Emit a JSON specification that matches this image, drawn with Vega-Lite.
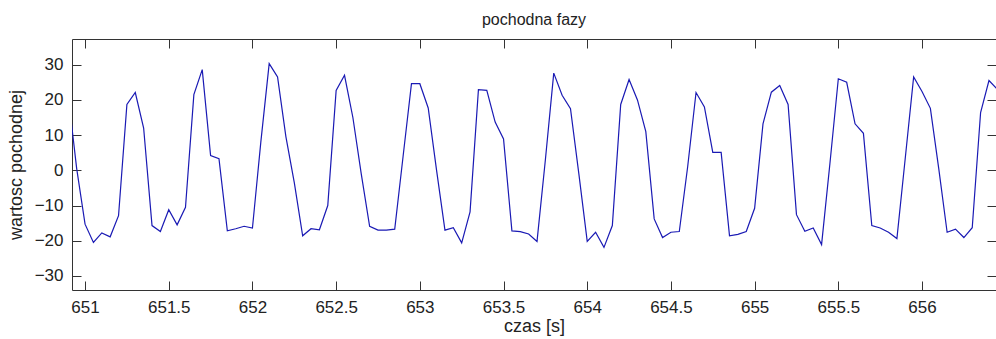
{
  "$schema": "https://vega.github.io/schema/vega-lite/v6.json",
  "width": 924,
  "height": 251,
  "autosize": {"type": "none"},
  "padding": {"left": 72, "top": 39, "right": 0, "bottom": 49},
  "background": "white",
  "config": {
    "view": {"stroke": "#333333", "strokeWidth": 1},
    "font": "Liberation Sans"
  },
  "title": {"text": "pochodna fazy", "fontSize": 16, "fontWeight": "normal", "color": "#222222", "offset": 11, "font": "Liberation Sans"},
  "data": {"values": [
    {"t": 650.90, "v": 21}, {"t": 650.95, "v": 0.5}, {"t": 651.00, "v": -15.3}, {"t": 651.05, "v": -20.5},
    {"t": 651.10, "v": -17.8}, {"t": 651.15, "v": -18.9}, {"t": 651.20, "v": -12.9}, {"t": 651.25, "v": 18.7},
    {"t": 651.30, "v": 22.1}, {"t": 651.35, "v": 12}, {"t": 651.40, "v": -15.7}, {"t": 651.45, "v": -17.4},
    {"t": 651.50, "v": -11.2}, {"t": 651.55, "v": -15.5}, {"t": 651.60, "v": -10.5}, {"t": 651.65, "v": 21.5},
    {"t": 651.70, "v": 28.6}, {"t": 651.75, "v": 4.2}, {"t": 651.80, "v": 3.3}, {"t": 651.85, "v": -17.2},
    {"t": 651.90, "v": -16.6}, {"t": 651.95, "v": -15.9}, {"t": 652.00, "v": -16.4}, {"t": 652.05, "v": 8},
    {"t": 652.10, "v": 30.3}, {"t": 652.15, "v": 26.5}, {"t": 652.20, "v": 9.5}, {"t": 652.25, "v": -3.5},
    {"t": 652.30, "v": -18.6}, {"t": 652.35, "v": -16.6}, {"t": 652.40, "v": -16.9}, {"t": 652.45, "v": -10},
    {"t": 652.50, "v": 22.7}, {"t": 652.55, "v": 27}, {"t": 652.60, "v": 15}, {"t": 652.65, "v": -1},
    {"t": 652.70, "v": -15.9}, {"t": 652.75, "v": -17}, {"t": 652.80, "v": -17}, {"t": 652.85, "v": -16.7},
    {"t": 652.90, "v": 4}, {"t": 652.95, "v": 24.6}, {"t": 653.00, "v": 24.6}, {"t": 653.05, "v": 17.7},
    {"t": 653.10, "v": 0}, {"t": 653.15, "v": -17}, {"t": 653.20, "v": -16.3}, {"t": 653.25, "v": -20.6},
    {"t": 653.30, "v": -11.8}, {"t": 653.35, "v": 22.9}, {"t": 653.40, "v": 22.7}, {"t": 653.45, "v": 13.7},
    {"t": 653.50, "v": 8.9}, {"t": 653.55, "v": -17.2}, {"t": 653.60, "v": -17.4}, {"t": 653.65, "v": -18.1},
    {"t": 653.70, "v": -20.2}, {"t": 653.75, "v": 3}, {"t": 653.80, "v": 27.6}, {"t": 653.85, "v": 21.3},
    {"t": 653.90, "v": 17.5}, {"t": 653.95, "v": -1}, {"t": 654.00, "v": -20.2}, {"t": 654.05, "v": -17.6},
    {"t": 654.10, "v": -21.9}, {"t": 654.15, "v": -15.7}, {"t": 654.20, "v": 18.7}, {"t": 654.25, "v": 25.8},
    {"t": 654.30, "v": 20}, {"t": 654.35, "v": 11}, {"t": 654.40, "v": -13.8}, {"t": 654.45, "v": -19.1},
    {"t": 654.50, "v": -17.6}, {"t": 654.55, "v": -17.4}, {"t": 654.60, "v": 1}, {"t": 654.65, "v": 22.1},
    {"t": 654.70, "v": 18}, {"t": 654.75, "v": 5.1}, {"t": 654.80, "v": 5.1}, {"t": 654.85, "v": -18.6},
    {"t": 654.90, "v": -18.2}, {"t": 654.95, "v": -17.4}, {"t": 655.00, "v": -10.8}, {"t": 655.05, "v": 13.2},
    {"t": 655.10, "v": 22.2}, {"t": 655.15, "v": 24.1}, {"t": 655.20, "v": 18.7}, {"t": 655.25, "v": -12.6},
    {"t": 655.30, "v": -17.3}, {"t": 655.35, "v": -16.4}, {"t": 655.40, "v": -21.1}, {"t": 655.45, "v": 2},
    {"t": 655.50, "v": 26}, {"t": 655.55, "v": 25}, {"t": 655.60, "v": 13.2}, {"t": 655.65, "v": 10.5},
    {"t": 655.70, "v": -15.7}, {"t": 655.75, "v": -16.4}, {"t": 655.80, "v": -17.6}, {"t": 655.85, "v": -19.4},
    {"t": 655.90, "v": 3.5}, {"t": 655.95, "v": 26.5}, {"t": 656.00, "v": 22.4}, {"t": 656.05, "v": 17.6},
    {"t": 656.10, "v": 0.5}, {"t": 656.15, "v": -17.6}, {"t": 656.20, "v": -16.7}, {"t": 656.25, "v": -19.1},
    {"t": 656.30, "v": -16.3}, {"t": 656.35, "v": 16.4}, {"t": 656.40, "v": 25.5}, {"t": 656.45, "v": 23}
  ]},
  "layer": [
    {
      "mark": {"type": "line", "color": "#1a1ab4", "strokeWidth": 1.2, "clip": true},
      "encoding": {
        "x": {
          "field": "t", "type": "quantitative",
          "scale": {"domain": [650.922, 656.442], "nice": false, "zero": false},
          "axis": {
            "orient": "bottom",
            "values": [651, 651.5, 652, 652.5, 653, 653.5, 654, 654.5, 655, 655.5, 656],
            "format": "~g", "grid": false, "domain": false,
            "tickSize": -9, "tickColor": "#333333", "tickWidth": 1,
            "labelFontSize": 17, "labelColor": "#222222", "labelPadding": 18, "labelFont": "Liberation Sans",
            "title": "czas [s]", "titleFontSize": 18, "titleFontWeight": "normal", "titleColor": "#222222",
            "titlePadding": 2, "titleFont": "Liberation Sans"
          }
        },
        "y": {
          "field": "v", "type": "quantitative",
          "scale": {"domain": [-34, 37.3], "nice": false, "zero": false},
          "axis": {
            "orient": "left",
            "values": [-30, -20, -10, 0, 10, 20, 30],
            "grid": false, "domain": false,
            "tickSize": -9, "tickColor": "#333333", "tickWidth": 1,
            "labelFontSize": 17, "labelColor": "#222222", "labelPadding": 18, "labelFont": "Liberation Sans",
            "title": "wartosc pochodnej", "titleFontSize": 18, "titleFontWeight": "normal", "titleColor": "#222222",
            "titlePadding": 9, "titleFont": "Liberation Sans"
          }
        }
      }
    },
    {
      "mark": {"type": "line", "opacity": 0, "clip": true},
      "encoding": {
        "x": {
          "field": "t", "type": "quantitative",
          "scale": {"domain": [650.922, 656.442], "nice": false, "zero": false},
          "axis": {
            "orient": "top",
            "values": [651, 651.5, 652, 652.5, 653, 653.5, 654, 654.5, 655, 655.5, 656],
            "labels": false, "grid": false, "domain": false, "title": null,
            "tickSize": -9, "tickColor": "#333333", "tickWidth": 1
          }
        },
        "y": {
          "field": "v", "type": "quantitative",
          "scale": {"domain": [-34, 37.3], "nice": false, "zero": false},
          "axis": {
            "orient": "right",
            "values": [-30, -20, -10, 0, 10, 20, 30],
            "labels": false, "grid": false, "domain": false, "title": null,
            "tickSize": -9, "tickColor": "#333333", "tickWidth": 1
          }
        }
      }
    }
  ],
  "resolve": {"axis": {"x": "independent", "y": "independent"}}
}
